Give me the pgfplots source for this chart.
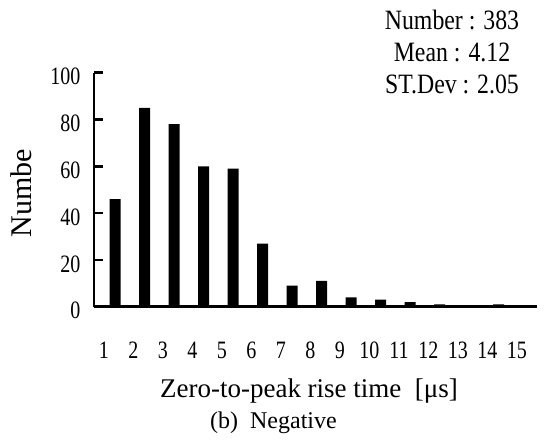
\documentclass[border=0pt]{standalone}
\usepackage{pgfplots}
\pgfplotsset{compat=1.18}
\usepackage{fontspec}
\setmainfont{Liberation Serif}
\newfontfamily\cond{Liberation Serif}[FakeStretch=0.85]
\newfontfamily\condt{Liberation Serif}[FakeStretch=0.8]
\begin{document}
\begin{tikzpicture}
\path[use as bounding box] (-94pt,-132.3pt) rectangle (451pt,306.7pt);
\begin{axis}[
 at={(0pt,0pt)}, anchor=south west,
 scale only axis, width=443pt, height=234pt,
 xmin=0.288, xmax=15.30, ymin=0, ymax=100,
 axis x line=bottom, axis y line=left,
 axis line style={line width=2.6pt, -},
 ytick={0,20,40,60,80,100},
 xtick={0.62,1.62,2.62,3.62,4.62,5.62,6.62,7.62,8.62,9.62,10.62,11.62,12.62,13.62,14.62},
 xticklabels={1,2,3,4,5,6,7,8,9,10,11,12,13,14,15},
 xtick style={draw=none},
 ytick align=inside,
 ytick style={line width=2.6pt, draw=black},
 major tick length=9pt,
 /pgf/number format/assume math mode=true,
 tick label style={font=\condt\fontsize{25}{28}\selectfont},
 xticklabel style={anchor=center, yshift=-39pt},
 yticklabel style={anchor=east, xshift=-10pt, yshift=-4pt},
 clip=false,
]
\addplot[ybar, bar width=11pt, fill=black, draw=none, bar shift=0pt] coordinates {
 (1,46) (2,85) (3,78) (4,60) (5,59) (6,27) (7,9) (8,11) (9,4) (10,3) (11,2) (12,1) (14,1)
};
\end{axis}
\node[font=\fontsize{30}{34}\selectfont, rotate=90, anchor=base] at (-62pt,113.7pt) {Numbe};
\node[font=\cond\fontsize{28}{32}\selectfont, anchor=base] at (358pt,276.7pt) {Number : 383};
\node[font=\cond\fontsize{28}{32}\selectfont, anchor=base] at (358pt,244.7pt) {Mean : 4.12};
\node[font=\cond\fontsize{28}{32}\selectfont, anchor=base] at (358pt,212.7pt) {ST.Dev : 2.05};
\node[font=\fontsize{27}{32}\selectfont, anchor=base] at (215pt,-90.3pt) {Zero-to-peak rise time\ \ [μs]};
\node[font=\fontsize{24}{28}\selectfont, anchor=base] at (179.5pt,-121.3pt) {(b)\ \ Negative};
\end{tikzpicture}
\end{document}
